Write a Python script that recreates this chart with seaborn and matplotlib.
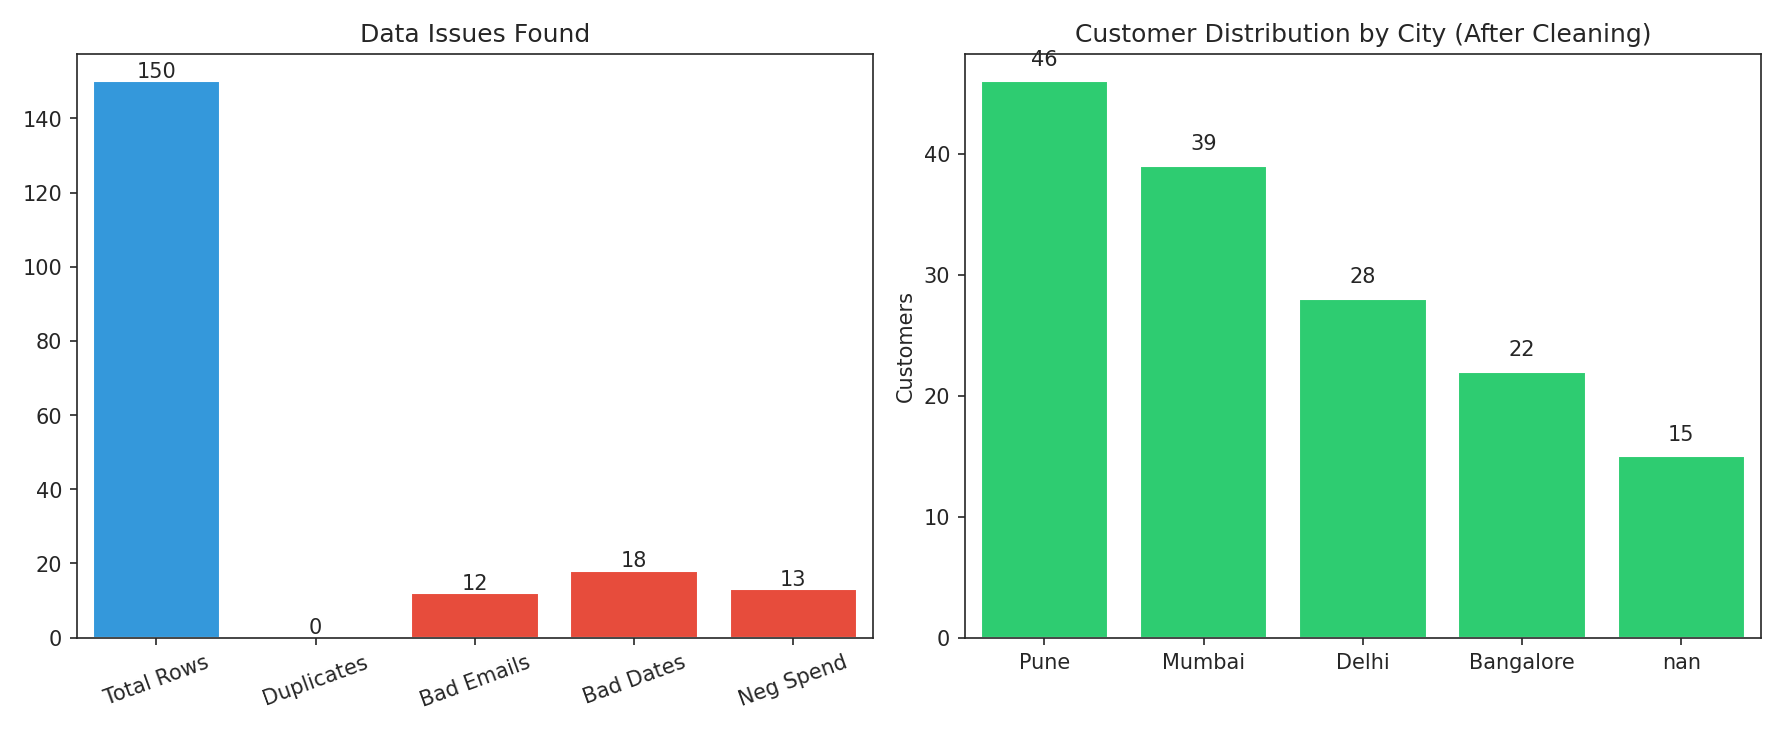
import matplotlib
matplotlib.use("Agg")
import matplotlib.pyplot as plt
import seaborn as sns
import pandas as pd

issue_labels = ['Total Rows', 'Duplicates', 'Bad Emails', 'Bad Dates', 'Neg Spend']
issue_counts = [150, 0, 12, 18, 13]
issue_colors = ['#3498db', '#e74c3c', '#e74c3c', '#e74c3c', '#e74c3c']

cities = ['Pune', 'Mumbai', 'Delhi', 'Bangalore', 'nan']
city_counts = [46, 39, 28, 22, 15]

sns.set_style('ticks')
plt.rcParams['font.family'] = ['DejaVu Sans']

fig, (ax1, ax2) = plt.subplots(1, 2, figsize=(11.89, 4.89), dpi=150)

# Left: data issues
df1 = pd.DataFrame({'label': issue_labels, 'count': issue_counts})
sns.barplot(data=df1, x='label', y='count', hue='label', palette=issue_colors,
            legend=False, saturation=1, width=0.8, ax=ax1)
for c in ax1.containers:
    ax1.bar_label(c, fontsize=10)
ax1.set_title('Data Issues Found')
ax1.set_xlabel('')
ax1.set_ylabel('')
ax1.tick_params(axis='x', rotation=20)

# Right: city distribution
df2 = pd.DataFrame({'city': cities, 'count': city_counts})
sns.barplot(data=df2, x='city', y='count', color='#2ecc71', saturation=1,
            width=0.8, ax=ax2)
for i, v in enumerate(city_counts):
    ax2.text(i, v + 1, str(v), ha='center', va='bottom', fontsize=10)
ax2.set_title('Customer Distribution by City (After Cleaning)')
ax2.set_xlabel('')
ax2.set_ylabel('Customers')

plt.tight_layout()
plt.savefig('out.png', dpi=150)
